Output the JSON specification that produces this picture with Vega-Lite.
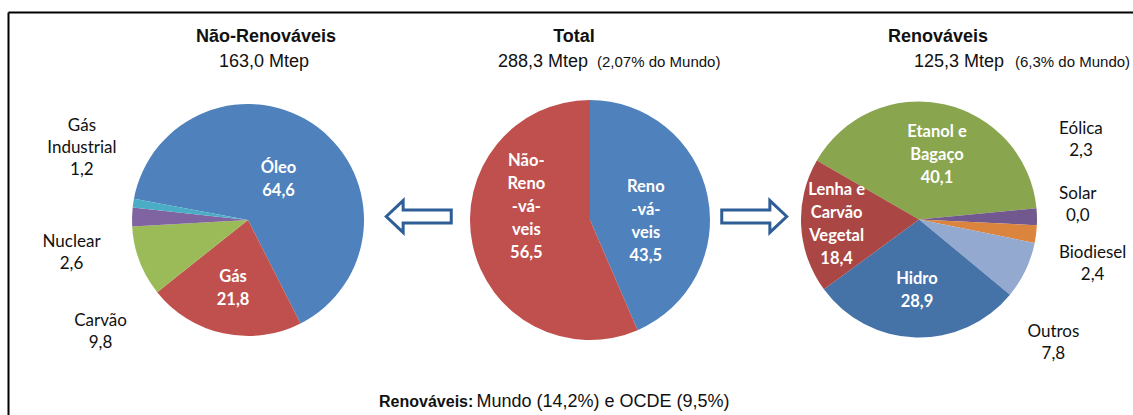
{
  "$schema": "https://vega.github.io/schema/vega-lite/v6.json",
  "width": 1125,
  "height": 403,
  "autosize": {"type": "none"},
  "padding": {"left": 8, "top": 12, "right": 0, "bottom": 0},
  "background": "white",
  "config": {"view": {"stroke": null}},
  "datasets": {
    "nr": [
      {"pie": "Não-Renováveis", "name": "Óleo", "value": 64.6, "label": "Óleo\n64,6", "ord": 1},
      {"pie": "Não-Renováveis", "name": "Gás", "value": 21.8, "label": "Gás\n21,8", "ord": 2},
      {"pie": "Não-Renováveis", "name": "Carvão", "value": 9.8, "label": "Carvão\n9,8", "ord": 3},
      {"pie": "Não-Renováveis", "name": "Nuclear", "value": 2.6, "label": "Nuclear\n2,6", "ord": 4},
      {"pie": "Não-Renováveis", "name": "Gás Industrial", "value": 1.2, "label": "Gás\nIndustrial\n1,2", "ord": 5}
    ],
    "tot": [
      {"pie": "Total", "name": "Renováveis", "value": 43.5, "label": "Reno\n-vá-\nveis\n43,5", "ord": 1},
      {"pie": "Total", "name": "Não-Renováveis", "value": 56.5, "label": "Não-\nReno\n-vá-\nveis\n56,5", "ord": 2}
    ],
    "ren": [
      {"pie": "Renováveis", "name": "Etanol e Bagaço", "value": 40.1, "label": "Etanol e\nBagaço\n40,1", "ord": 1},
      {"pie": "Renováveis", "name": "Eólica", "value": 2.3, "label": "Eólica\n2,3", "ord": 2},
      {"pie": "Renováveis", "name": "Solar", "value": 0.0, "label": "Solar\n0,0", "ord": 3},
      {"pie": "Renováveis", "name": "Biodiesel", "value": 2.4, "label": "Biodiesel\n2,4", "ord": 4},
      {"pie": "Renováveis", "name": "Outros", "value": 7.8, "label": "Outros\n7,8", "ord": 5},
      {"pie": "Renováveis", "name": "Hidro", "value": 28.9, "label": "Hidro\n28,9", "ord": 6},
      {"pie": "Renováveis", "name": "Lenha e Carvão Vegetal", "value": 18.4, "label": "Lenha e\nCarvão\nVegetal\n18,4", "ord": 7}
    ]
  },
  "encoding": {
    "x": {
      "field": "pie",
      "type": "nominal",
      "scale": {"type": "point", "domain": ["borda-esquerda", "Não-Renováveis", "⇦", "Total", "⇨", "Renováveis", "borda-direita"], "padding": 0.3532, "align": 0.6097},
      "axis": {"orient": "top", "domain": true, "domainColor": "#000000", "domainWidth": 2, "ticks": false, "labels": false, "grid": false, "title": null}
    }
  },
  "layer": [
    {
      "data": {"name": "nr"},
      "encoding": {
        "theta": {"field": "value", "type": "quantitative", "stack": true, "scale": {"range": [4.8957, 11.1789]}},
        "order": {"field": "ord", "type": "quantitative"}
      },
      "layer": [
        {
          "mark": {"type": "arc", "outerRadius": 116, "yOffset": 6.5},
          "encoding": {
            "color": {"field": "name", "type": "nominal", "legend": null,
              "scale": {"domain": ["Óleo", "Gás", "Carvão", "Nuclear", "Gás Industrial", "Renováveis", "Não-Renováveis", "Etanol e Bagaço", "Eólica", "Solar", "Biodiesel", "Outros", "Hidro", "Lenha e Carvão Vegetal"],
                "range": ["#4F81BD", "#C0504D", "#9BBB59", "#8064A2", "#4BACC6", "#4F81BD", "#C0504D", "#89A54E", "#71588F", "#4198AF", "#DB843D", "#93A9CF", "#4572A7", "#AA4643"]}}
          }
        },
        {
          "mark": {"type": "text", "radius": 51, "yOffset": 6.5, "dy": -11.5, "font": "Lato", "fontSize": 16.5, "fontWeight": "bold", "color": "white", "lineBreak": "\n", "lineHeight": 23, "align": "center", "baseline": "middle"},
          "encoding": {"text": {"condition": {"test": "datum.name === 'Óleo'", "field": "label", "type": "nominal"}, "value": ""}}
        },
        {
          "mark": {"type": "text", "radius": 70, "yOffset": 6.5, "dy": -11.5, "font": "Lato", "fontSize": 16.5, "fontWeight": "bold", "color": "white", "lineBreak": "\n", "lineHeight": 23, "align": "center", "baseline": "middle"},
          "encoding": {"text": {"condition": {"test": "datum.name === 'Gás'", "field": "label", "type": "nominal"}, "value": ""}}
        },
        {
          "mark": {"type": "text", "radius": 181, "yOffset": 6.5, "dx": 13, "dy": -68, "font": "Lato", "fontSize": 17, "color": "#111111", "lineBreak": "\n", "lineHeight": 22, "align": "center", "baseline": "middle"},
          "encoding": {"text": {"condition": {"test": "datum.name === 'Gás Industrial'", "field": "label", "type": "nominal"}, "value": ""}}
        },
        {
          "mark": {"type": "text", "radius": 179.5, "yOffset": 6.5, "dx": 3, "dy": 27, "font": "Lato", "fontSize": 17, "color": "#111111", "lineBreak": "\n", "lineHeight": 22, "align": "center", "baseline": "middle"},
          "encoding": {"text": {"condition": {"test": "datum.name === 'Nuclear'", "field": "label", "type": "nominal"}, "value": ""}}
        },
        {
          "mark": {"type": "text", "radius": 184.5, "yOffset": 6.5, "dx": 25, "dy": 35, "font": "Lato", "fontSize": 17, "color": "#111111", "lineBreak": "\n", "lineHeight": 22, "align": "center", "baseline": "middle"},
          "encoding": {"text": {"condition": {"test": "datum.name === 'Carvão'", "field": "label", "type": "nominal"}, "value": ""}}
        }
      ]
    },
    {
      "data": {"name": "tot"},
      "encoding": {
        "theta": {"field": "value", "type": "quantitative", "stack": true, "scale": {"range": [0, 6.2832]}},
        "order": {"field": "ord", "type": "quantitative"}
      },
      "layer": [
        {
          "mark": {"type": "arc", "outerRadius": 120, "xOffset": 6.5, "yOffset": 6.5},
          "encoding": {
            "color": {"field": "name", "type": "nominal", "legend": null,
              "scale": {"domain": ["Óleo", "Gás", "Carvão", "Nuclear", "Gás Industrial", "Renováveis", "Não-Renováveis", "Etanol e Bagaço", "Eólica", "Solar", "Biodiesel", "Outros", "Hidro", "Lenha e Carvão Vegetal"],
                "range": ["#4F81BD", "#C0504D", "#9BBB59", "#8064A2", "#4BACC6", "#4F81BD", "#C0504D", "#89A54E", "#71588F", "#4198AF", "#DB843D", "#93A9CF", "#4572A7", "#AA4643"]}}
          }
        },
        {
          "mark": {"type": "text", "radius": 65, "xOffset": 6.5, "yOffset": 6.5, "dy": -72, "font": "Lato", "fontSize": 16.5, "fontWeight": "bold", "color": "white", "lineBreak": "\n", "lineHeight": 23, "align": "center", "baseline": "middle"},
          "encoding": {"text": {"condition": {"test": "datum.name === 'Não-Renováveis'", "field": "label", "type": "nominal"}, "value": ""}}
        },
        {
          "mark": {"type": "text", "radius": 57, "xOffset": 6.5, "yOffset": 6.5, "dy": -21.5, "font": "Lato", "fontSize": 16.5, "fontWeight": "bold", "color": "white", "lineBreak": "\n", "lineHeight": 23, "align": "center", "baseline": "middle"},
          "encoding": {"text": {"condition": {"test": "datum.name === 'Renováveis'", "field": "label", "type": "nominal"}, "value": ""}}
        }
      ]
    },
    {
      "data": {"name": "ren"},
      "encoding": {
        "theta": {"field": "value", "type": "quantitative", "stack": true, "scale": {"range": [5.23599, 11.51917]}},
        "order": {"field": "ord", "type": "quantitative"}
      },
      "layer": [
        {
          "mark": {"type": "arc", "outerRadius": 118, "yOffset": 6},
          "encoding": {
            "color": {"field": "name", "type": "nominal", "legend": null,
              "scale": {"domain": ["Óleo", "Gás", "Carvão", "Nuclear", "Gás Industrial", "Renováveis", "Não-Renováveis", "Etanol e Bagaço", "Eólica", "Solar", "Biodiesel", "Outros", "Hidro", "Lenha e Carvão Vegetal"],
                "range": ["#4F81BD", "#C0504D", "#9BBB59", "#8064A2", "#4BACC6", "#4F81BD", "#C0504D", "#89A54E", "#71588F", "#4198AF", "#DB843D", "#93A9CF", "#4572A7", "#AA4643"]}}
          }
        },
        {
          "mark": {"type": "text", "radius": 66, "yOffset": 6, "dx": 4, "dy": -23, "font": "Lato", "fontSize": 16.5, "fontWeight": "bold", "color": "white", "lineBreak": "\n", "lineHeight": 23, "align": "center", "baseline": "middle"},
          "encoding": {"text": {"condition": {"test": "datum.name === 'Etanol e Bagaço'", "field": "label", "type": "nominal"}, "value": ""}}
        },
        {
          "mark": {"type": "text", "radius": 82.5, "yOffset": 6, "dy": -34, "font": "Lato", "fontSize": 16.5, "fontWeight": "bold", "color": "white", "lineBreak": "\n", "lineHeight": 23, "align": "center", "baseline": "middle"},
          "encoding": {"text": {"condition": {"test": "datum.name === 'Lenha e Carvão Vegetal'", "field": "label", "type": "nominal"}, "value": ""}}
        },
        {
          "mark": {"type": "text", "radius": 71, "yOffset": 6, "dy": -11.5, "font": "Lato", "fontSize": 16.5, "fontWeight": "bold", "color": "white", "lineBreak": "\n", "lineHeight": 23, "align": "center", "baseline": "middle"},
          "encoding": {"text": {"condition": {"test": "datum.name === 'Hidro'", "field": "label", "type": "nominal"}, "value": ""}}
        },
        {
          "mark": {"type": "text", "radius": 160, "yOffset": 6, "dx": 2, "dy": -87, "font": "Lato", "fontSize": 17, "color": "#111111", "lineBreak": "\n", "lineHeight": 22, "align": "center", "baseline": "middle"},
          "encoding": {"text": {"condition": {"test": "datum.name === 'Eólica'", "field": "label", "type": "nominal"}, "value": ""}}
        },
        {
          "mark": {"type": "text", "radius": 159, "yOffset": 6, "dy": -33, "font": "Lato", "fontSize": 17, "color": "#111111", "lineBreak": "\n", "lineHeight": 22, "align": "center", "baseline": "middle"},
          "encoding": {"text": {"condition": {"test": "datum.name === 'Solar'", "field": "label", "type": "nominal"}, "value": ""}}
        },
        {
          "mark": {"type": "text", "radius": 179, "yOffset": 6, "dx": -4, "dy": 11, "font": "Lato", "fontSize": 17, "color": "#111111", "lineBreak": "\n", "lineHeight": 22, "align": "center", "baseline": "middle"},
          "encoding": {"text": {"condition": {"test": "datum.name === 'Biodiesel'", "field": "label", "type": "nominal"}, "value": ""}}
        },
        {
          "mark": {"type": "text", "radius": 181, "yOffset": 6, "dx": -29, "dy": 35, "font": "Lato", "fontSize": 17, "color": "#111111", "lineBreak": "\n", "lineHeight": 22, "align": "center", "baseline": "middle"},
          "encoding": {"text": {"condition": {"test": "datum.name === 'Outros'", "field": "label", "type": "nominal"}, "value": ""}}
        }
      ]
    },
    {
      "data": {"values": [{"pie": "⇦"}, {"pie": "⇨"}]},
      "mark": {"type": "point", "size": 4225, "filled": true, "fill": "white", "stroke": "#2F5E96", "strokeWidth": 3, "opacity": 1, "xOffset": 3, "yOffset": 3},
      "encoding": {
        "shape": {"field": "pie", "type": "nominal", "legend": null,
          "scale": {"domain": ["⇦", "⇨"], "range": ["M -1 0 L -0.48 -0.49 L -0.48 -0.2 L 1 -0.2 L 1 0.2 L -0.48 0.2 L -0.48 0.49 Z", "M 1 0 L 0.48 -0.49 L 0.48 -0.2 L -1 -0.2 L -1 0.2 L 0.48 0.2 L 0.48 0.49 Z"]}},
        "y": {"datum": 0.5, "type": "quantitative", "scale": {"domain": [0, 1]},
          "axis": {"orient": "left", "domain": true, "domainColor": "#000000", "domainWidth": 2, "ticks": false, "labels": false, "grid": false, "title": null}}
      }
    },
    {
      "data": {"values": [{"pie": "Não-Renováveis", "t": "Não-Renováveis"}]},
      "mark": {"type": "text", "font": "Liberation Sans", "fontWeight": "bold", "fontSize": 18, "align": "center", "baseline": "alphabetic", "dx": 18, "dy": -171.8, "color": "#111111"},
      "encoding": {"text": {"field": "t"}}
    },
    {
      "data": {"values": [{"pie": "Não-Renováveis", "t": "163,0 Mtep"}]},
      "mark": {"type": "text", "font": "Liberation Sans", "fontSize": 18, "align": "center", "baseline": "alphabetic", "dx": 16, "dy": -146.8, "color": "#111111"},
      "encoding": {"text": {"field": "t"}}
    },
    {
      "data": {"values": [{"pie": "Total", "t": "Total"}]},
      "mark": {"type": "text", "font": "Liberation Sans", "fontWeight": "bold", "fontSize": 18, "align": "center", "baseline": "alphabetic", "dx": -9.5, "dy": -171.8, "color": "#111111"},
      "encoding": {"text": {"field": "t"}}
    },
    {
      "data": {"values": [{"pie": "Total", "t": "288,3 Mtep"}]},
      "mark": {"type": "text", "font": "Liberation Sans", "fontSize": 18, "align": "left", "baseline": "alphabetic", "dx": -85.5, "dy": -146.8, "color": "#111111"},
      "encoding": {"text": {"field": "t"}}
    },
    {
      "data": {"values": [{"pie": "Total", "t": "(2,07% do Mundo)"}]},
      "mark": {"type": "text", "font": "Liberation Sans", "fontSize": 15, "align": "left", "baseline": "alphabetic", "dx": 13.5, "dy": -146.8, "color": "#111111"},
      "encoding": {"text": {"field": "t"}}
    },
    {
      "data": {"values": [{"pie": "Renováveis", "t": "Renováveis"}]},
      "mark": {"type": "text", "font": "Liberation Sans", "fontWeight": "bold", "fontSize": 18, "align": "center", "baseline": "alphabetic", "dx": 19, "dy": -171.8, "color": "#111111"},
      "encoding": {"text": {"field": "t"}}
    },
    {
      "data": {"values": [{"pie": "Renováveis", "t": "125,3  Mtep"}]},
      "mark": {"type": "text", "font": "Liberation Sans", "fontSize": 18, "align": "left", "baseline": "alphabetic", "dx": -5, "dy": -146.8, "color": "#111111"},
      "encoding": {"text": {"field": "t"}}
    },
    {
      "data": {"values": [{"pie": "Renováveis", "t": "(6,3% do Mundo)"}]},
      "mark": {"type": "text", "font": "Liberation Sans", "fontSize": 15, "align": "left", "baseline": "alphabetic", "dx": 96, "dy": -146.8, "color": "#111111"},
      "encoding": {"text": {"field": "t"}}
    },
    {
      "data": {"values": [{"pie": "Total", "t": "Renováveis:"}]},
      "mark": {"type": "text", "font": "Liberation Sans", "fontWeight": "bold", "fontSize": 16, "align": "right", "baseline": "alphabetic", "dx": -110.2, "dy": 193.2, "color": "#111111"},
      "encoding": {"text": {"field": "t"}}
    },
    {
      "data": {"values": [{"pie": "Total", "t": "Mundo (14,2%) e OCDE (9,5%)"}]},
      "mark": {"type": "text", "font": "Liberation Sans", "fontSize": 18, "align": "left", "baseline": "alphabetic", "dx": -107, "dy": 193.2, "color": "#111111"},
      "encoding": {"text": {"field": "t"}}
    }
  ],
  "resolve": {"scale": {"theta": "independent"}}
}
